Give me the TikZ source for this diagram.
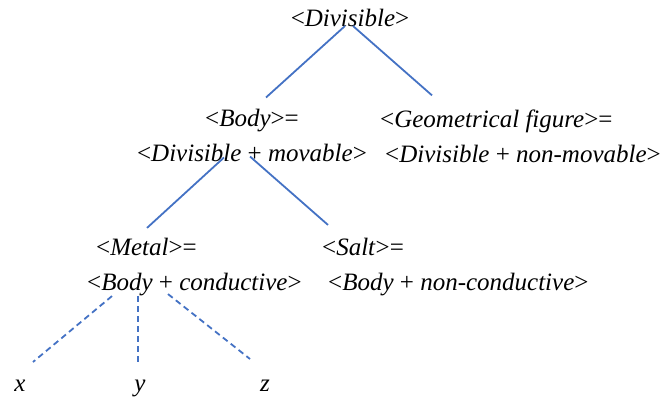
\documentclass[tikz,border=0pt]{standalone}
\usepackage{fontspec}
\setmainfont{Liberation Serif}
\usepackage{xcolor}
\usetikzlibrary{positioning, calc}

\definecolor{linkblue}{HTML}{4472C4}
\newcommand{\conc}[1]{{\upshape<}\textit{#1}{\upshape>}}
\newcommand{\plus}{{\upshape+}}

\begin{document}
\begin{tikzpicture}[
x=1pt, y=-1pt,
    concept/.style={align=center, inner sep=1pt, font=\fontsize{25}{35}\selectfont},
    subconcept/.style={concept, align=left},
    leaf/.style={inner sep=1pt, anchor=base, font=\fontsize{25}{28}\selectfont\itshape},
    link/.style={draw=linkblue, line width=1.8pt},
    sublink/.style={link, dash pattern=on 6pt off 4pt}
]
\useasboundingbox (0,0) rectangle (665,404);

    % Concepts
    \node[concept] (div) at (350,18) {\conc{Divisible}};
    \node[concept] (body) at (252,135) {\conc{Body}=\\\conc{Divisible \plus{} movable}};
    \node[subconcept, anchor=west] (geo) at (379,136) {\conc{Geometrical figure}=\\\hspace{5pt}\conc{Divisible \plus{} non-movable}};
    \node[subconcept, anchor=west] (metal) at (86,267) {\hspace{9pt}\conc{Metal}=\\\conc{Body \plus{} conductive}};
    \node[subconcept, anchor=west] (salt) at (321,267) {\conc{Salt}=\\\hspace{6pt}\conc{Body \plus{} non-conductive}};

    % Instances
    \node[leaf] (x) at (20,391) {x};
    \node[leaf] (y) at (140,391) {y};
    \node[leaf] (z) at (265,391) {z};

    % Edges - genus to species
    \draw[link] ([xshift=-5pt,yshift=2pt]div.south) -- ([xshift=14pt,yshift=10pt]body.north);
    \draw[link] ([xshift=3pt,yshift=2pt]div.south) -- ([xshift=53pt,yshift=13pt]geo.north west);
    \draw[link] ([xshift=-28pt,yshift=5pt]body.south) -- ([xshift=61pt,yshift=9pt]metal.north west);
    \draw[link] ([xshift=-2pt,yshift=6pt]body.south) -- ([xshift=7pt,yshift=12pt]salt.north west);

    % Edges - species to instances
    \draw[sublink] ([xshift=26pt,yshift=1pt]metal.south west) -- ([xshift=13pt,yshift=29pt]x.base);
    \draw[sublink] ([xshift=52pt,yshift=1pt]metal.south west) -- ([xshift=-2pt,yshift=29pt]y.base);
    \draw[sublink] ([xshift=82pt,yshift=3pt]metal.south west) -- ([xshift=-15pt,yshift=32pt]z.base);

\end{tikzpicture}
\end{document}
